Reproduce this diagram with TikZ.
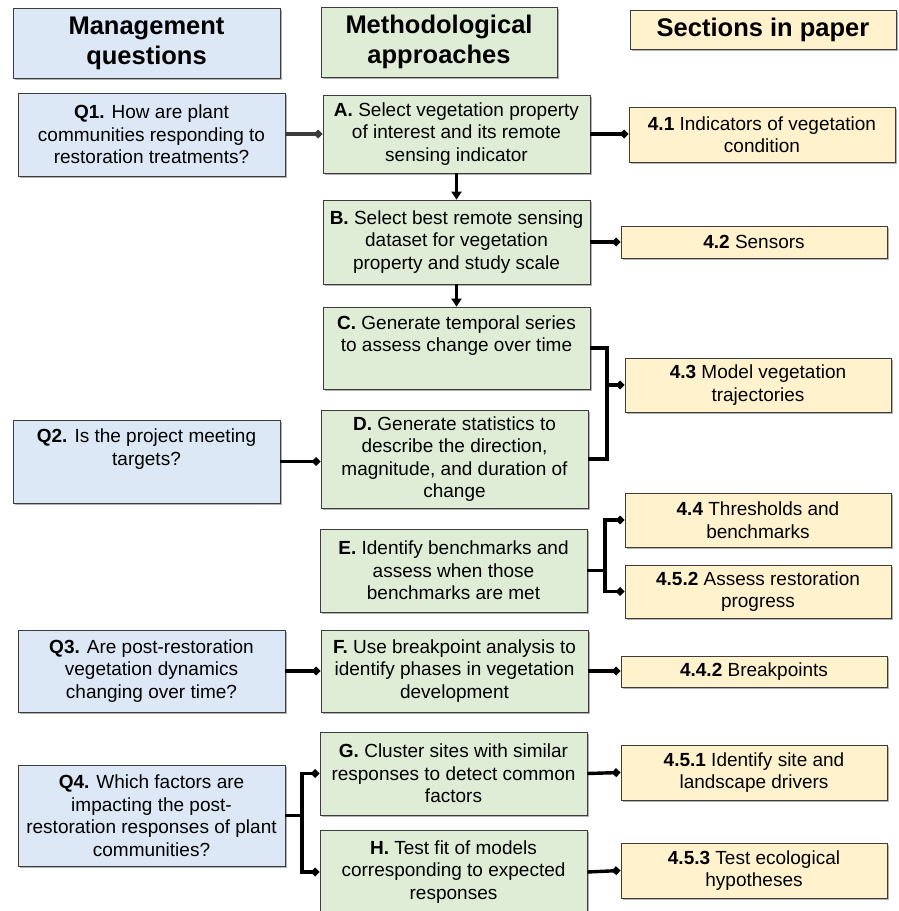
\documentclass[tikz,border=0pt]{standalone}
\usepackage{fontspec}
\setmainfont{Liberation Sans}
\usetikzlibrary{arrows.meta,shadows}
\definecolor{qblue}{RGB}{220,232,245}
\definecolor{mgreen}{RGB}{223,237,214}
\definecolor{syellow}{RGB}{255,242,204}
\definecolor{edge}{RGB}{60,60,60}
\begin{document}
\begin{tikzpicture}[x=1pt,y=-1pt,
  box/.style={draw=edge, line width=0.8pt, inner sep=2pt, align=center,
    font=\fontsize{19}{22.5}\selectfont,
    drop shadow={shadow xshift=1.5pt, shadow yshift=-1.5pt, fill=black, opacity=0.3}},
  hdr/.style={box, font=\fontsize{25.5}{30}\selectfont\bfseries},
  qbox/.style={box, fill=qblue},
  mbox/.style={box, fill=mgreen},
  sbox/.style={box, fill=syellow},
  link/.style={line width=3.4pt, black},
  dlink/.style={link, -{Diamond[length=9pt,width=9pt]}},
  alink/.style={link, -{Triangle[length=8pt,width=10pt]}}]
\useasboundingbox (0,0) rectangle (899,911);
% headers
\node[hdr, fill=qblue, minimum width=267pt, minimum height=70pt] (hM) at (146.5,43) {Management\\questions};
\node[hdr, fill=mgreen, minimum width=236pt, minimum height=70pt] (hA) at (439,42) {Methodological\\approaches};
\node[hdr, fill=syellow, minimum width=266pt, minimum height=39pt] (hS) at (763,29.5) {Sections in paper};
% questions
\node[qbox, minimum width=267pt, minimum height=83pt] (Q1) at (151.5,134.5) {\textbf{Q1.} How are plant\\communities responding to\\restoration treatments?};
\node[qbox, minimum width=267pt, minimum height=83pt] (Q2) at (146.5,461.5) {\textbf{Q2.} Is the project meeting\\targets?\\\strut};
\node[qbox, minimum width=267pt, minimum height=82pt] (Q3) at (151.5,671) {\textbf{Q3.} Are post-restoration\\vegetation dynamics\\changing over time?};
\node[qbox, minimum width=267pt, minimum height=101pt] (Q4) at (151.5,815.5) {\textbf{Q4.} Which factors are\\impacting the post-\\restoration responses of plant\\communities?};
% methods
\node[mbox, minimum width=267pt, minimum height=78pt] (A) at (456.5,134) {\textbf{A.} Select vegetation property\\of interest and its remote\\sensing indicator};
\node[mbox, minimum width=267pt, minimum height=84pt] (B) at (456.5,242) {\textbf{B.} Select best remote sensing\\dataset for vegetation\\property and study scale};
\node[mbox, minimum width=267pt, minimum height=82pt] (C) at (456.5,348) {\textbf{C.} Generate temporal series\\to assess change over time\\\strut};
\node[mbox, minimum width=267pt, minimum height=98pt] (D) at (454.5,459) {\textbf{D.} Generate statistics to\\describe the direction,\\magnitude, and duration of\\change};
\node[mbox, minimum width=267pt, minimum height=83pt] (E) at (453.5,570.5) {\textbf{E.} Identify benchmarks and\\assess when those\\benchmarks are met};
\node[mbox, minimum width=267pt, minimum height=82pt] (F) at (454.5,671) {\textbf{F.} Use breakpoint analysis to\\identify phases in vegetation\\development};
\node[mbox, minimum width=267pt, minimum height=83pt] (G) at (453.5,773.5) {\textbf{G.} Cluster sites with similar\\responses to detect common\\factors};
\node[mbox, minimum width=267pt, minimum height=84pt] (H) at (453.5,872) {\textbf{H.} Test fit of models\\corresponding to expected\\responses};
% sections
\node[sbox, minimum width=266pt, minimum height=55pt] (s41) at (762,134.5) {\textbf{4.1} Indicators of vegetation\\condition};
\node[sbox, minimum width=266pt, minimum height=32pt] (s42) at (754,242) {\textbf{4.2} Sensors};
\node[sbox, minimum width=266pt, minimum height=54pt] (s43) at (758,385) {\textbf{4.3} Model vegetation\\trajectories};
\node[sbox, minimum width=266pt, minimum height=54pt] (s44) at (758,520) {\textbf{4.4} Thresholds and\\benchmarks};
\node[sbox, minimum width=266pt, minimum height=53pt] (s452) at (758,591.5) {\textbf{4.5.2} Assess restoration\\progress};
\node[sbox, minimum width=266pt, minimum height=31pt] (s442) at (754,671.5) {\textbf{4.4.2} Breakpoints};
\node[sbox, minimum width=266pt, minimum height=55pt] (s451) at (754,772.5) {\textbf{4.5.1} Identify site and\\landscape drivers};
\node[sbox, minimum width=266pt, minimum height=55pt] (s453) at (754,870.5) {\textbf{4.5.3} Test ecological\\hypotheses};
% connectors
\draw[dlink, draw=edge, fill=edge] (Q1.east |- A.west) -- (A.west);
\draw[dlink] (A.east) -- (A.east -| s41.west);
\draw[alink] (A.south) -- (A.south |- B.north);
\draw[dlink] (B.east) -- (B.east -| s42.west);
\draw[alink] (B.south) -- (B.south |- C.north);
\coordinate (j1) at (607,385);
\draw[link] (C.east) -| (j1);
\draw[link] (D.east) -| (j1);
\draw[dlink] (j1) -- (j1 -| s43.west);
\draw[dlink] (Q2.east) -- (Q2.east -| D.west);
\coordinate (j2) at (605,570.5);
\draw[link] (E.east) -- (j2);
\draw[dlink] (j2) |- (s44.west);
\draw[dlink] (j2) |- (s452.west);
\draw[dlink] (Q3.east) -- (F.west);
\draw[dlink] (F.east) -- (F.east -| s442.west);
\coordinate (j3) at (302,815.5);
\draw[link] (Q4.east) -- (j3);
\draw[dlink] (j3) |- (G.west);
\draw[dlink] (j3) |- (H.west);
\draw[dlink] (G.east) -- (s451.west);
\draw[dlink] (H.east) -- (s453.west);
\end{tikzpicture}
\end{document}
